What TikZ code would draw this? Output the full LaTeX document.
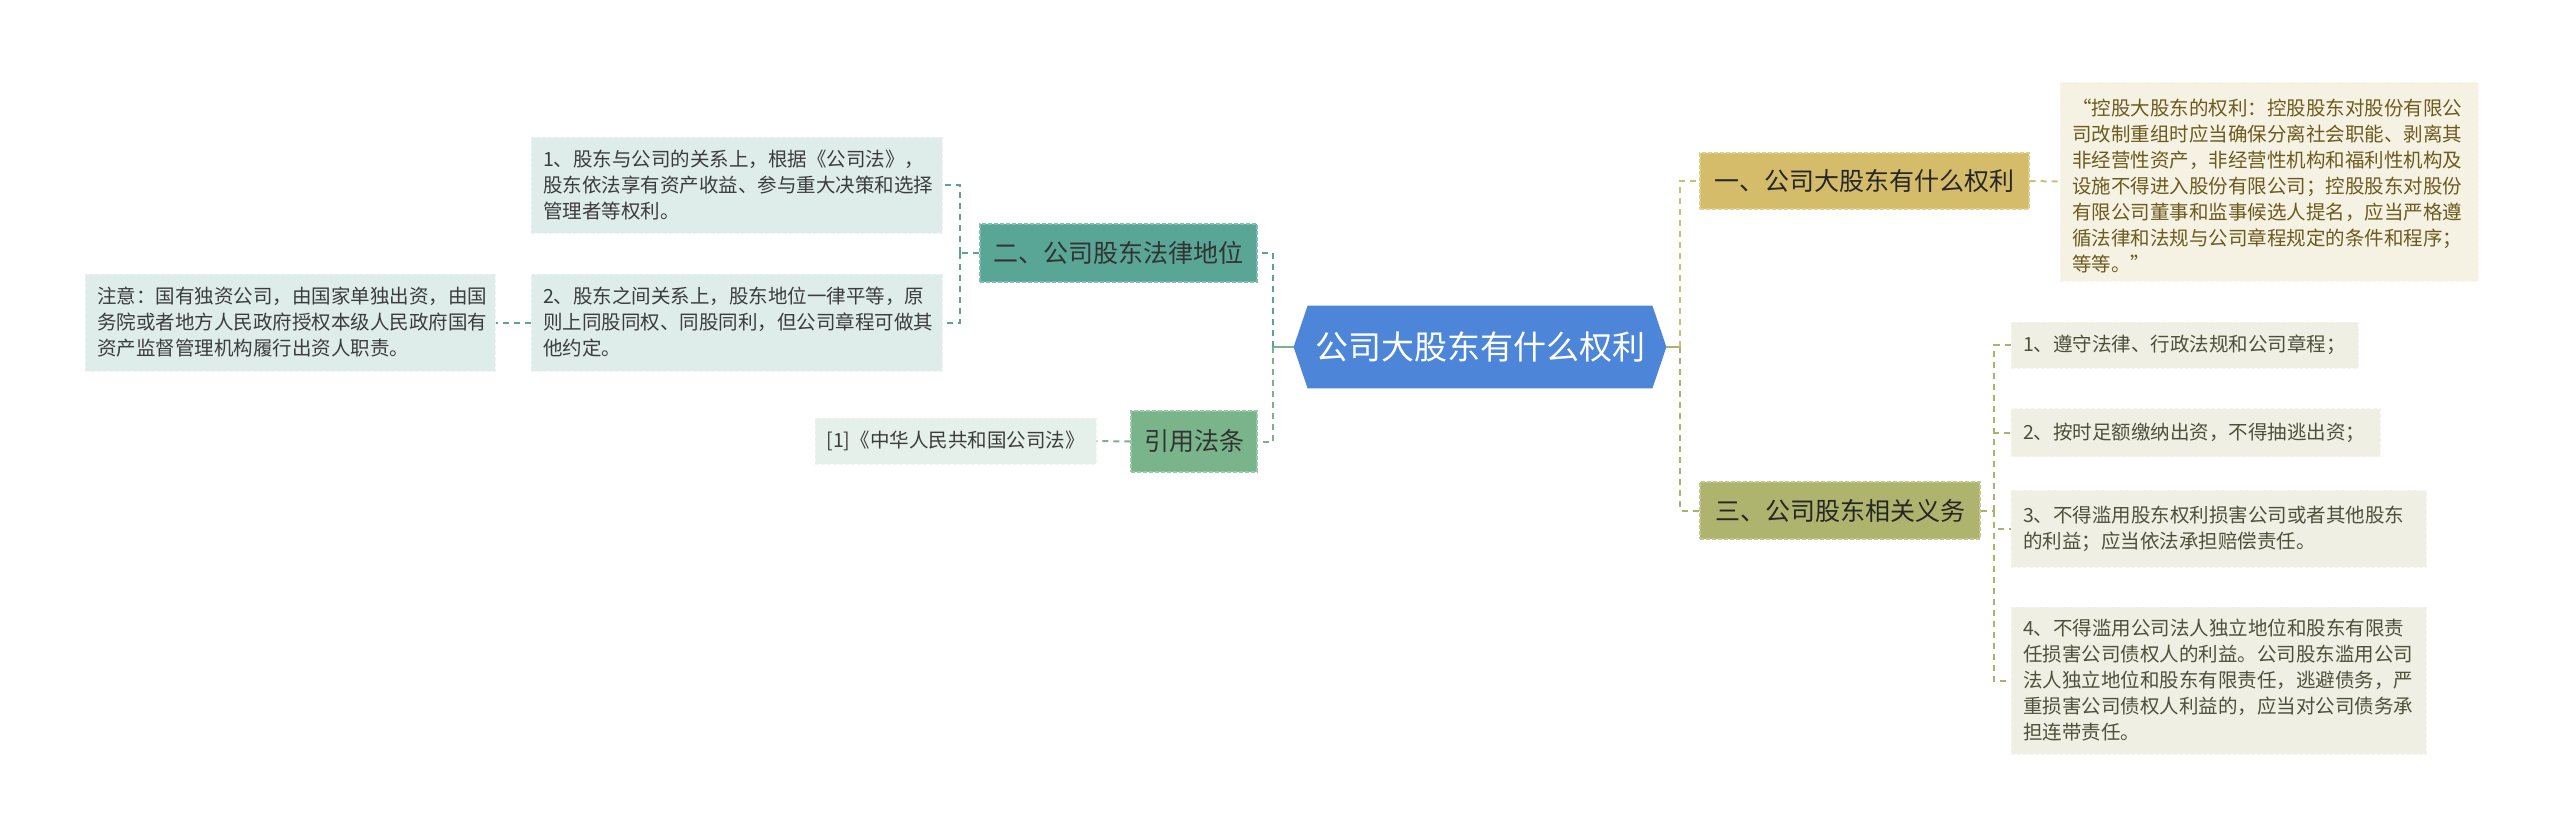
\documentclass[tikz,border=0pt]{standalone}
\usepackage{fontspec}
\setmainfont{Noto Sans CJK SC}
\usetikzlibrary{backgrounds}
\definecolor{hexblue}{HTML}{4D86D9}
\definecolor{yifill}{HTML}{D5BC6B}
\definecolor{detfill}{HTML}{F6F2E3}
\definecolor{dettext}{HTML}{6B5B1E}
\definecolor{sanfill}{HTML}{AEB46D}
\definecolor{itemfill}{HTML}{EFEFE4}
\definecolor{itemtext}{HTML}{4F4F3C}
\definecolor{erfill}{HTML}{59A596}
\definecolor{bfill}{HTML}{DEEDEA}
\definecolor{btext}{HTML}{3C3C3C}
\definecolor{yinfill}{HTML}{79B48B}
\definecolor{reffill}{HTML}{E5F0EA}
\definecolor{cgoldc}{HTML}{D1BC74}
\definecolor{colivec}{HTML}{ADB16E}
\definecolor{ctealc}{HTML}{5FA194}
\definecolor{cgreenc}{HTML}{79B28C}
\tikzset{
  topic/.style={inner sep=0pt, font=\fontsize{12.5pt}{15pt}\selectfont, dash pattern=on 2pt off 1pt, line width=0.6pt},
  detail/.style={inner xsep=6pt, inner ysep=0pt, align=left, font=\fontsize{9.75pt}{13pt}\selectfont, dash pattern=on 2pt off 1pt, line width=0.5pt},
  conn/.style={line width=1pt, dash pattern=on 3pt off 2.5pt},
  cgold/.style={conn, draw=cgoldc},
  colive/.style={conn, draw=colivec},
  cteal/.style={conn, draw=ctealc},
  cgreen/.style={conn, draw=cgreenc},
}
\begin{document}
\begin{tikzpicture}[x=0.5pt,y=-0.5pt]
\useasboundingbox (0,0) rectangle (2560,837);

% center
\node[inner sep=0pt, minimum width=186pt, minimum height=41pt, text=white, font=\fontsize{16.5pt}{20pt}\selectfont] (c) at (1480,347) {公司大股东有什么权利};
\begin{scope}[on background layer]
\fill[hexblue] (c.west) -- ([xshift=7pt]c.north west) -- ([xshift=-7pt]c.north east) -- (c.east) -- ([xshift=-7pt]c.south east) -- ([xshift=7pt]c.south west) -- cycle;
\end{scope}

% level one
\node[topic, fill=yifill, draw=yifill!75!white, text=black!85, minimum width=164.5pt, minimum height=28pt] (yi) at (1864.5,181) {一、公司大股东有什么权利};
\node[topic, fill=sanfill, draw=sanfill!75!white, text=black!85, minimum width=140pt, minimum height=28.5pt] (san) at (1840,510.5) {三、公司股东相关义务};
\node[topic, fill=erfill, draw=erfill!75!white, text=black!80, minimum width=138.5pt, minimum height=29pt] (er) at (1118.5,253) {二、公司股东法律地位};
\node[topic, fill=yinfill, draw=yinfill!75!white, text=black!80, minimum width=63pt, minimum height=30.5pt] (yin) at (1194,441.5) {引用法条};

% details
\node[detail, fill=detfill, draw=detfill!60!white, text=dettext, text width=197pt, minimum height=99.5pt] (det) at (2269,181.5) {\hspace{0.6em}“控股大股东的权利：控股股东对股份有限公\\司改制重组时应当确保分离社会职能、剥离其\\非经营性资产，非经营性机构和福利性机构及\\设施不得进入股份有限公司；控股股东对股份\\有限公司董事和监事候选人提名，应当严格遵\\循法律和法规与公司章程规定的条件和程序；\\等等。”};

\node[detail, fill=itemfill, draw=itemfill!60!white, text=itemtext, text width=161.5pt, minimum height=23pt] (i1) at (2184.5,345) {1、遵守法律、行政法规和公司章程；};
\node[detail, fill=itemfill, draw=itemfill!60!white, text=itemtext, text width=172.5pt, minimum height=24pt] (i2) at (2195.5,432.5) {2、按时足额缴纳出资，不得抽逃出资；};
\node[detail, fill=itemfill, draw=itemfill!60!white, text=itemtext, text width=195.5pt, minimum height=38.5pt] (i3) at (2218.5,528.5) {3、不得滥用股东权利损害公司或者其他股东\\的利益；应当依法承担赔偿责任。};
\node[detail, fill=itemfill, draw=itemfill!60!white, text=itemtext, text width=195.5pt, minimum height=73.5pt] (i4) at (2218.5,680.5) {4、不得滥用公司法人独立地位和股东有限责\\任损害公司债权人的利益。公司股东滥用公司\\法人独立地位和股东有限责任，逃避债务，严\\重损害公司债权人利益的，应当对公司债务承\\担连带责任。};

\node[detail, fill=bfill, draw=bfill!60!white, text=btext, text width=193.5pt, minimum height=48pt] (b1) at (736.5,185) {1、股东与公司的关系上，根据《公司法》，\\股东依法享有资产收益、参与重大决策和选择\\管理者等权利。};
\node[detail, fill=bfill, draw=bfill!60!white, text=btext, text width=193.5pt, minimum height=48.5pt] (b2) at (736.5,322.5) {2、股东之间关系上，股东地位一律平等，原\\则上同股同权、同股同利，但公司章程可做其\\他约定。};
\node[detail, fill=bfill, draw=bfill!60!white, text=btext, text width=193pt, minimum height=48.5pt] (note) at (290,322.5) {注意：国有独资公司，由国家单独出资，由国\\务院或者地方人民政府授权本级人民政府国有\\资产监督管理机构履行出资人职责。};
\node[detail, align=center, inner xsep=0pt, fill=reffill, draw=reffill!60!white, text=btext, minimum width=140.5pt, minimum height=23pt] (ref) at (955.5,441) {[1]《中华人民共和国公司法》};

% connectors
\coordinate (lj) at (1273,347);
\coordinate (rj) at (1680,347);
\coordinate (ej) at (960,253);
\coordinate (sj) at (1994,510.5);

\draw[line width=1.2pt, draw=cgreenc] (c.west) -- (lj);
\draw[cteal] (lj) |- (er.east);
\draw[cgreen] (lj) |- (yin.east);
\draw[cteal] (er.west) -- (ej);
\draw[cteal] (ej) |- (b1.east);
\draw[cteal] (ej) |- (b2.east);
\draw[cteal] (b2.west) -- (note.east);
\draw[cgreen] (yin.west) -- (ref.east);

\draw[line width=1.2pt, draw=colivec] (c.east) -- (rj);
\draw[cgold] (rj) |- (yi.west);
\draw[colive] (rj) |- (san.west);
\draw[cgold] (yi.east) -- (det.west);
\draw[colive] (san.east) -- (sj);
\draw[colive] (sj) |- (i1.west);
\draw[colive] (sj) |- (i2.west);
\draw[colive] (sj) |- (i3.west);
\draw[colive] (sj) |- (i4.west);
\end{tikzpicture}
\end{document}
